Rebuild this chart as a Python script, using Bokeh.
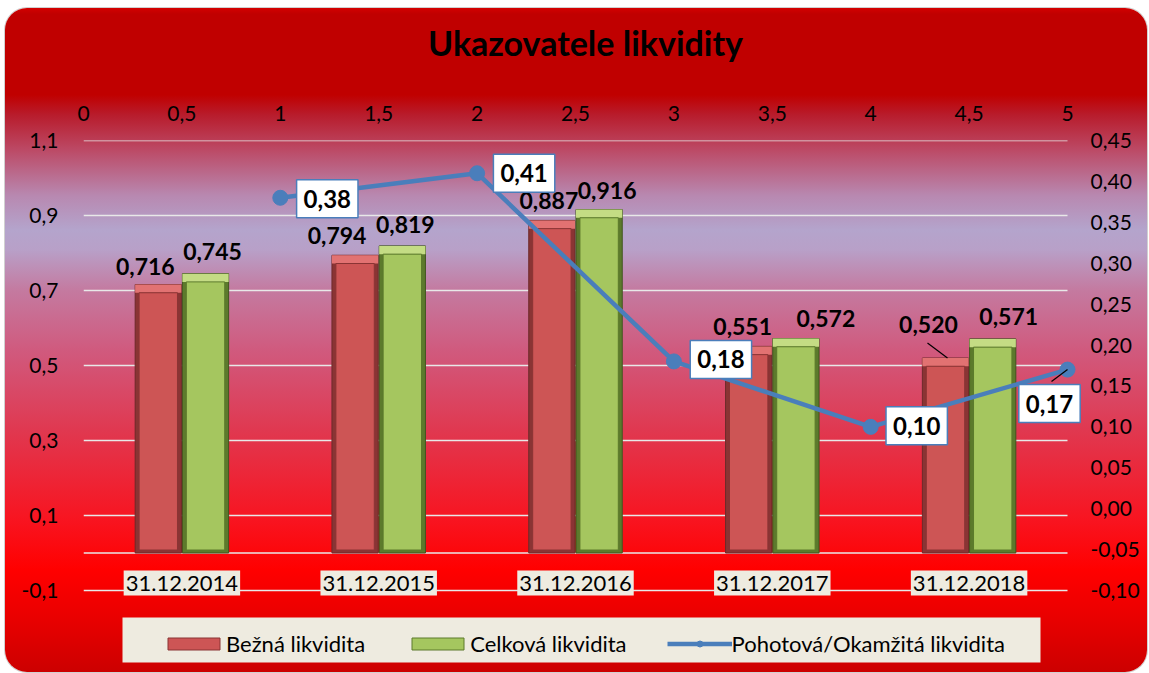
from bokeh.plotting import figure
from bokeh.models import (ColumnDataSource, Range1d, LinearAxis, FixedTicker, CustomJSTickFormatter,
                          Legend, LegendItem, LabelSet, Label, Spacer)
from bokeh.layouts import column, row
from bokeh.core.properties import value
from bokeh.embed import file_html
from bokeh.resources import INLINE

# ---------------- data ----------------
categories = ["31.12.2014", "31.12.2015", "31.12.2016", "31.12.2017", "31.12.2018"]
bezna = [0.716, 0.794, 0.887, 0.551, 0.520]
celkova = [0.745, 0.819, 0.916, 0.572, 0.571]
pohotova_x = [1, 2, 3, 4, 5]
pohotova = [0.38, 0.41, 0.18, 0.10, 0.17]
top_ticks = [0, 0.5, 1, 1.5, 2, 2.5, 3, 3.5, 4, 4.5, 5]
left_ticks = [-0.1, 0.1, 0.3, 0.5, 0.7, 0.9, 1.1]
right_ticks = [-0.10, -0.05, 0.0, 0.05, 0.10, 0.15, 0.20, 0.25, 0.30, 0.35, 0.40, 0.45]
series_names = ["Bežná likvidita", "Celková likvidita", "Pohotová/Okamžitá likvidita"]
title_text = "Ukazovatele likvidity"

# ---------------- styling / layout (pixels) ----------------
FONT = "Lato"
W, H = 1142, 664
BL, BR, BT, BB = 78, 60, 132, 2
EXT_R = 20        # frame extends past x=5 so edge marks are not clipped
EXT_B = 80        # frame extends below -0.1 to host the legend
AX_W = W - BL - BR - EXT_R      # px for x 0..5
AX_H = H - BT - BB - EXT_B      # px for the value axes
PXX = AX_W / 5.0
PXY = AX_H / 1.2
PXR = AX_H / 0.55
x_end = 5 + EXT_R / PXX
y_bot = -0.1 - EXT_B / PXY
r_bot = -0.10 - EXT_B / PXR
bar_w = 0.235
bar_off = 0.12
bez_dx = [-13, -18, -3, -6, -17]
bez_dy = [18, 20, 20, 20, 34]
cel_dx = [7, 3, 8, 30, 16]
cel_dy = [22, 21, 19, 20, 22]
poh_dx = [47, 47, 47, 46, -18]
poh_dy = [-1, 0, 2, 1, -34]
# legend box, in px from the frame's left / from the -0.1 line downward
LEG_L, LEG_R, LEG_T, LEG_B = 39, 957, 27, 72

def fmt(v, d):
    return f"{v:.{d}f}".replace(".", ",")

cx = [i + 0.5 for i in range(len(categories))]
xr = [c - bar_off for c in cx]
xg = [c + bar_off for c in cx]

gradient = ("linear-gradient(to bottom, #d40000 0%, #c00000 0.9%, #c00000 13.1%, #b81c2c 16.1%, "
            "#bc4a66 21.4%, #b888b0 28.2%, #b4a4cc 33.4%, #b8a0c8 36.4%, #c47aa0 42.5%, "
            "#d05a7e 51.5%, #e03850 63.6%, #f81420 77.1%, #ff0000 84.6%, #e80000 92.2%, #cc0000 100%)")

p = figure(width=W, height=H, x_range=Range1d(0, x_end), y_range=Range1d(y_bot, 1.1),
           x_axis_location="above", output_backend="svg", toolbar_location=None,
           min_border_left=BL, min_border_right=BR, min_border_top=BT, min_border_bottom=BB)
p.border_fill_color = None
p.background_fill_color = None
p.outline_line_color = None
p.styles = {"background": gradient, "border-radius": "22px", "box-shadow": "0 0 0 1px #d0d0d0"}

p.extra_y_ranges = {"right": Range1d(r_bot, 0.45)}

# top axis (its axis label carries the chart title)
xa = p.xaxis[0]
xa.ticker = FixedTicker(ticks=top_ticks)
xa.formatter = CustomJSTickFormatter(code="return (Math.round(tick*10)/10).toString().replace('.', ',');")
xa.axis_label = title_text
xa.axis_label_text_font = FONT
xa.axis_label_text_font_size = "34px"
xa.axis_label_text_font_style = "bold"
xa.axis_label_text_color = "black"
xa.axis_label_standoff = 40
# left axis
ya = p.yaxis[0]
ya.ticker = FixedTicker(ticks=left_ticks)
ya.formatter = CustomJSTickFormatter(code="var t=Math.round(tick*10)/10; return t.toFixed(1).replace('.', ',');")
# right axis
ra = LinearAxis(y_range_name="right", ticker=FixedTicker(ticks=right_ticks),
                formatter=CustomJSTickFormatter(code="var t=Math.round(tick*100)/100; if (Math.abs(t)<1e-9) t=0; return t.toFixed(2).replace('.', ',');"))
p.add_layout(ra, "right")

for ax, so in ((xa, 20), (ya, 25), (ra, 3)):
    ax.axis_line_color = None
    ax.major_tick_line_color = None
    ax.minor_tick_line_color = None
    ax.major_tick_out = 0
    ax.major_tick_in = 0
    ax.minor_tick_out = 0
    ax.minor_tick_in = 0
    ax.major_label_text_font = FONT
    ax.major_label_text_font_size = "21px"
    ax.major_label_text_color = "black"
    ax.major_label_standoff = so

p.xgrid.grid_line_color = None
p.ygrid.grid_line_color = None

# gridlines (limited to x 0..5) and category axis line at 0
p.segment(x0=[0] * len(left_ticks), x1=[5] * len(left_ticks), y0=left_ticks, y1=left_ticks,
          line_color="#e8e8e8", line_width=1.5, level="underlay")
p.segment(x0=[0], x1=[5], y0=[0], y1=[0], line_color="#e8e8e8", line_width=1.5, level="underlay")

# legend background box
p.quad(left=[LEG_L / PXX], right=[LEG_R / PXX], top=[-0.1 - LEG_T / PXY], bottom=[-0.1 - LEG_B / PXY],
       fill_color="#eeebe0", line_color=None, level="underlay")

src = ColumnDataSource(dict(
    cx=cx, xr=xr, xg=xg, bezna=bezna, celkova=celkova,
    bez_top=[v - 0.022 for v in bezna], cel_top=[v - 0.022 for v in celkova],
    bez_lab=[fmt(v, 3) for v in bezna], cel_lab=[fmt(v, 3) for v in celkova],
    bez_dx=bez_dx, bez_dy=bez_dy, cel_dx=cel_dx, cel_dy=cel_dy,
))
lsrc = ColumnDataSource(dict(x=pohotova_x, y=pohotova))

# bars (bevel look with layered bars)
inset = 0.04
p.vbar(x="xr", top="bezna", bottom=0, width=bar_w, source=src, fill_color="#8a3434", line_color="#6e2a2a", line_width=1)
p.vbar(x="xr", top="bezna", bottom="bez_top", width=bar_w, source=src, fill_color="#e27272", line_color=None)
r_bez = p.vbar(x="xr", top="bez_top", bottom=0.008, width=bar_w - inset, source=src,
               fill_color="#cd5555", line_color="#8a3434", line_width=1)
p.vbar(x="xg", top="celkova", bottom=0, width=bar_w, source=src, fill_color="#5c7a2c", line_color="#41561f", line_width=1)
p.vbar(x="xg", top="celkova", bottom="cel_top", width=bar_w, source=src, fill_color="#c4dc84", line_color=None)
r_cel = p.vbar(x="xg", top="cel_top", bottom=0.008, width=bar_w - inset, source=src,
               fill_color="#a5c65f", line_color="#5c7a2c", line_width=1)

# line
r_line = p.line(x="x", y="y", source=lsrc, y_range_name="right", line_color="#4a7ebb", line_width=4.5)
r_pts = p.scatter(x="x", y="y", source=lsrc, y_range_name="right", size=15,
                  fill_color="#4a7ebb", line_color="#4a7ebb")

# leader lines
p.segment(x0=[xr[4] - 18 / PXX], y0=[bezna[4] + 15 / PXY], x1=[xr[4] + 2 / PXX], y1=[bezna[4]],
          line_color="black", line_width=1.2)
p.segment(x0=[pohotova_x[4] - 16 / PXX], y0=[pohotova[4] - 12 / PXR], x1=[pohotova_x[4]], y1=[pohotova[4]],
          line_color="black", line_width=1.2, y_range_name="right")

# bar labels
p.add_layout(LabelSet(x="xr", y="bezna", text="bez_lab", source=src, x_offset="bez_dx", y_offset="bez_dy",
                      text_font=value(FONT), text_font_style="bold", text_font_size="23px",
                      text_align="center", text_baseline="middle", text_color="black"))
p.add_layout(LabelSet(x="xg", y="celkova", text="cel_lab", source=src, x_offset="cel_dx", y_offset="cel_dy",
                      text_font=value(FONT), text_font_style="bold", text_font_size="23px",
                      text_align="center", text_baseline="middle", text_color="black"))

# category labels
for c, name in zip(cx, categories):
    p.add_layout(Label(x=c, y=-0.08, text=name, text_font=FONT, text_font_size="22px",
                       text_align="center", text_baseline="middle", text_color="black",
                       background_fill_color="#eeebe0",
                       padding=dict(left=2, right=2, top=5, bottom=5)))

# line labels
for x, y, dx, dy in zip(pohotova_x, pohotova, poh_dx, poh_dy):
    p.add_layout(Label(x=x, y=y, y_range_name="right", text=fmt(y, 2), x_offset=dx, y_offset=dy,
                       text_font=FONT, text_font_style="bold", text_font_size="24px",
                       text_align="center", text_baseline="middle", text_color="black",
                       background_fill_color="white", border_line_color="#4a7ebb",
                       border_line_width=1.5, padding=dict(left=7, right=7, top=10, bottom=10)))

legend = Legend(items=[LegendItem(label=series_names[0], renderers=[r_bez]),
                       LegendItem(label=series_names[1], renderers=[r_cel]),
                       LegendItem(label=series_names[2], renderers=[r_line, r_pts])],
                orientation="horizontal", location=(78, 13), margin=0, padding=5, spacing=40,
                glyph_width=65, glyph_height=15, label_standoff=0,
                label_text_font=FONT, label_text_font_size="22px", label_text_color="black",
                background_fill_alpha=0, border_line_color=None)
p.add_layout(legend)

page = column(Spacer(height=8, width=W + 5), row(Spacer(width=5, height=H), p))
open("out.html", "w").write(file_html(page, INLINE))
